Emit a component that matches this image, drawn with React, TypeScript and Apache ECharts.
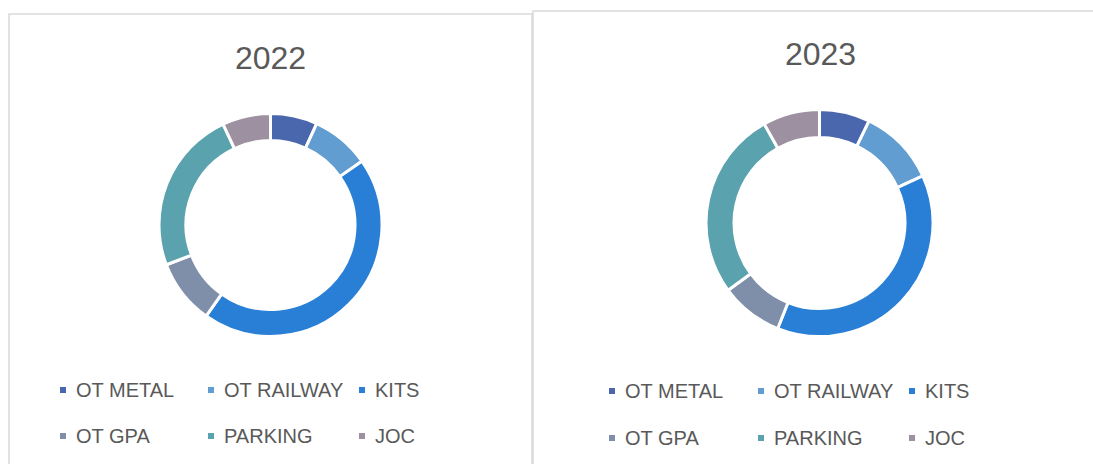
import React, { useEffect, useRef } from "react";
import * as echarts from "echarts";

const categories = ["OT METAL", "OT RAILWAY", "KITS", "OT GPA", "PARKING", "JOC"];
const values2022 = [6.8, 8.5, 44.5, 9.4, 23.8, 7.0];
const values2023 = [7.2, 11.0, 37.8, 8.9, 27.0, 8.1];
const titles = ["2022", "2023"];
const colors = ["#4A66AC", "#629DD1", "#297FD5", "#7F8FA9", "#5AA2AE", "#9D90A0"];

const FONT = "'Liberation Sans', Arial, sans-serif";
const TEXT_COLOR = "#595959";

export default function App() {
  const ref = useRef<HTMLDivElement>(null);

  useEffect(() => {
    if (!ref.current) return;
    const chart = echarts.init(ref.current, undefined, { renderer: "svg" });

    const panels = [
      {
        title: titles[0],
        titleX: 270.5,
        titleY: 58,
        center: [270.5, 225],
        radius: [84.5, 111.5],
        values: values2022,
        cols: [58, 206, 357],
        rows: [390, 436],
      },
      {
        title: titles[1],
        titleX: 820.5,
        titleY: 54,
        center: [819.5, 223],
        radius: [85.5, 113.5],
        values: values2023,
        cols: [607, 756, 907],
        rows: [391, 438],
      },
    ];

    const legends: any[] = [];
    panels.forEach((p) => {
      categories.forEach((name, i) => {
        const col = i % 3;
        const row = Math.floor(i / 3);
        legends.push({
          data: [name],
          left: p.cols[col],
          top: p.rows[row] - 10,
          padding: 0,
          icon: "rect",
          itemWidth: 8,
          itemHeight: 8,
          selectedMode: false,
          textStyle: {
            fontSize: 20,
            color: TEXT_COLOR,
            fontFamily: FONT,
            padding: [0, 0, 0, 4],
          },
        });
      });
    });

    const option: any = {
      animation: false,
      color: colors,
      graphic: [
        {
          type: "rect",
          shape: { x: 9, y: 14, width: 523, height: 480 },
          style: { fill: "#ffffff", stroke: "#D9D9D9", lineWidth: 1.5 },
          z: -10,
        },
        {
          type: "rect",
          shape: { x: 533, y: 11, width: 600, height: 480 },
          style: { fill: "#ffffff", stroke: "#D9D9D9", lineWidth: 1.5 },
          z: -10,
        },
        ...panels.map((p) => ({
          type: "text",
          x: p.titleX,
          y: p.titleY,
          style: {
            text: p.title,
            fontSize: 32,
            fontFamily: FONT,
            fill: TEXT_COLOR,
            textAlign: "center",
            textVerticalAlign: "middle",
          },
        })),
      ],
      legend: legends,
      series: panels.map((p) => ({
        type: "pie",
        name: p.title,
        center: p.center,
        radius: p.radius,
        startAngle: 90,
        clockwise: true,
        label: { show: false },
        labelLine: { show: false },
        silent: true,
        itemStyle: { borderColor: "#ffffff", borderWidth: 3 },
        data: categories.map((name, i) => ({ name, value: p.values[i] })),
      })),
    };

    chart.setOption(option);
    return () => chart.dispose();
  }, []);

  return (
    <div
      ref={ref}
      style={{ position: "fixed", left: 0, top: 0, width: 1093, height: 464, background: "#ffffff" }}
    />
  );
}
